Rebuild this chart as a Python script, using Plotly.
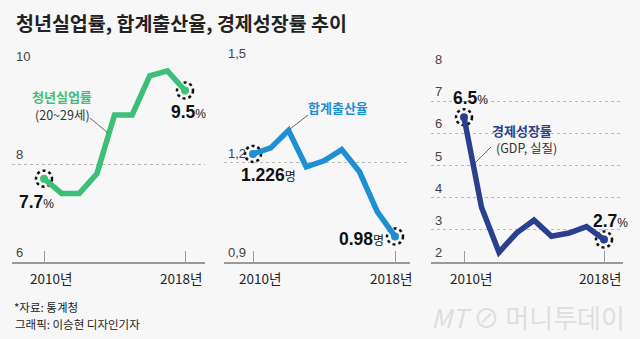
import plotly.graph_objects as go

# ---------------- data ----------------
years = [2010, 2011, 2012, 2013, 2014, 2015, 2016, 2017, 2018]
youth_unemp = [7.7, 7.4, 7.4, 7.8, 9.0, 9.0, 9.8, 9.9, 9.5]          # 청년실업률 (20~29세), %
fertility = [1.226, 1.244, 1.297, 1.187, 1.205, 1.239, 1.172, 1.052, 0.977]  # 합계출산율, 명
gdp_growth = [6.5, 3.7, 2.3, 2.9, 3.3, 2.8, 2.9, 3.1, 2.7]           # 경제성장률 (GDP, 실질), %

x_ticks = [2010, 2018]
x_ticktext = ["2010년", "2018년"]
y1_ticks = [6, 8, 10]
y1_ticktext = ["6", "8", "10"]
y2_ticks = [0.9, 1.2, 1.5]
y2_ticktext = ["0,9", "1,2", "1,5"]
y3_ticks = [2, 3, 4, 5, 6, 7, 8]
y3_ticktext = ["2", "3", "4", "5", "6", "7", "8"]

start_labels = ["7.7", "1.226", "6.5"]
end_labels = ["9.5", "0.98", "2.7"]
units = ["%", "명", "%"]

# ---------------- layout helpers ----------------
W, H = 640, 339
BG = "#f7f7f7"
GREEN = "#3cbf77"
BLUE = "#1e8fd2"
NAVY = "#2a3f8e"
NUMFONT = "Liberation Sans Narrow, Liberation Sans, Noto Sans CJK KR"
KFONT = "Noto Sans CJK KR, Noto Sans, sans-serif"


def px(x):
    return x / W


def py(y):
    return 1 - y / H


def lin_range(p_lo, p_hi, pa, pb, va, vb):
    s = (vb - va) / (pb - pa)
    return [va + (p_lo - pa) * s, va + (p_hi - pa) * s]


# panel geometry in pixels
panels = [
    dict(left=12, right=205, x_a=44, x_b=185, top=66, bottom=262),
    dict(left=224, right=410, x_a=253, x_b=395, top=63, bottom=262),
    dict(left=431, right=623, x_a=464, x_b=604, top=69, bottom=262),
]
series = [youth_unemp, fertility, gdp_growth]
colors = [GREEN, BLUE, NAVY]
yticks = [y1_ticks, y2_ticks, y3_ticks]
ytexts = [y1_ticktext, y2_ticktext, y3_ticktext]
xlabel_shift = [7, -4]

fig = go.Figure()
shapes = []
annotations = []

for i, (p, ys, col, yt, ytt) in enumerate(zip(panels, series, colors, yticks, ytexts)):
    n = "" if i == 0 else str(i + 1)
    xa, ya = "x" + n, "y" + n
    xr = lin_range(p["left"], p["right"], p["x_a"], p["x_b"], x_ticks[0], x_ticks[1])
    fig.add_trace(go.Scatter(x=years, y=ys, mode="lines", xaxis=xa, yaxis=ya,
                             line=dict(color=col, width=5.5), cliponaxis=False,
                             showlegend=False, hoverinfo="skip"))
    fig.add_trace(go.Scatter(x=[years[0], years[-1]], y=[ys[0], ys[-1]], mode="markers",
                             xaxis=xa, yaxis=ya, marker=dict(color=col, size=8),
                             cliponaxis=False, showlegend=False, hoverinfo="skip"))
    fig.layout["xaxis" + n] = dict(
        domain=[px(p["left"]), px(p["right"])], range=xr, anchor=ya,
        tickvals=x_ticks, showticklabels=False, ticks="inside", ticklen=11,
        tickcolor="#9a9a9a", tickwidth=1, showline=True, linecolor="#9a9a9a",
        linewidth=1.5, showgrid=False, zeroline=False)
    fig.layout["yaxis" + n] = dict(
        domain=[py(p["bottom"]), py(p["top"])], range=[yt[0], yt[-1]], anchor=xa,
        tickvals=yt[1:], showticklabels=False, ticks="", showgrid=True,
        gridcolor="#b8b8b8", gridwidth=1, griddash="dot", zeroline=False,
        showline=False)
    # x tick labels
    for v, t, sh in zip(x_ticks, x_ticktext, xlabel_shift):
        annotations.append(dict(x=v, xref=xa, y=py(278), yref="paper", text=t,
                                showarrow=False, xanchor="center", yanchor="middle",
                                xshift=sh, font=dict(family=KFONT, size=13.5, color="#222")))
    # y tick labels sitting above gridlines
    for v, t in zip(yt, ytt):
        annotations.append(dict(x=px(p["left"] + 2), xref="paper", y=v, yref=ya,
                                text=t, showarrow=False, xanchor="left",
                                yanchor="bottom", yshift=0,
                                font=dict(family=NUMFONT, size=13, color="#444")))
    # dotted rings at endpoints
    for xv, yv in [(years[0], ys[0]), (years[-1], ys[-1])]:
        shapes.append(dict(type="circle", xref=xa, yref=ya, xsizemode="pixel",
                           ysizemode="pixel", xanchor=xv, yanchor=yv,
                           x0=-8, x1=8, y0=-8, y1=8, layer="below",
                           fillcolor=BG, line=dict(color="#111", width=2.5, dash="dot")))


def vlabel(num, unit, x, y):
    annotations.append(dict(
        x=px(x), y=py(y), xref="paper", yref="paper", showarrow=False,
        xanchor="center", yanchor="middle",
        text=f"<b>{num}</b><span style='font-size:12px;font-weight:normal'>{unit}</span>",
        font=dict(family=NUMFONT, size=17.5, color="#111")))


vlabel(start_labels[0], units[0], 36, 202)
vlabel(end_labels[0], units[0], 188, 112)
vlabel(start_labels[1], units[1], 268, 175)
vlabel(end_labels[1], units[1], 361, 239)
vlabel(start_labels[2], units[2], 470, 98)
vlabel(end_labels[2], units[2], 610, 221)


def txt(t, x, y, size, color, bold=False, anchor="center", family=KFONT):
    annotations.append(dict(x=px(x), y=py(y), xref="paper", yref="paper",
                            showarrow=False, xanchor=anchor, yanchor="middle",
                            text=f"<b>{t}</b>" if bold else t,
                            font=dict(family=family, size=size, color=color)))


# series name labels
txt("청년실업률", 62, 97, 13, GREEN, bold=True)
txt("(20~29세)", 62, 114, 12.5, "#333")
txt("합계출산율", 338, 107, 13, BLUE, bold=True)
txt("경제성장률", 522, 130, 13, NAVY, bold=True)
txt("(GDP, 실질)", 526, 148, 12.5, "#333")

# leader lines
for (x0, y0, x1, y1) in [(90, 118, 108, 133), (308, 115, 290, 129), (491, 147, 475, 163)]:
    shapes.append(dict(type="line", xref="paper", yref="paper",
                       x0=px(x0), y0=py(y0), x1=px(x1), y1=py(y1),
                       line=dict(color="#444", width=0.8)))

# title and footer
txt("청년실업률, 합계출산율, 경제성장률 추이", 14, 22, 19.5, "#222", bold=True, anchor="left")
txt("*자료: 통계청", 12, 307, 11.5, "#222", anchor="left")
txt("그래픽: 이승현 디자인기자", 13, 324, 11.5, "#222", anchor="left")
txt("<i>MT</i> ⊘ 머니투데이", 528, 316, 26, "#dedede")

fig.update_layout(width=W, height=H, margin=dict(l=0, r=0, t=0, b=0),
                  paper_bgcolor=BG, plot_bgcolor=BG, showlegend=False,
                  shapes=shapes, annotations=annotations)

fig.write_html("out.html")
